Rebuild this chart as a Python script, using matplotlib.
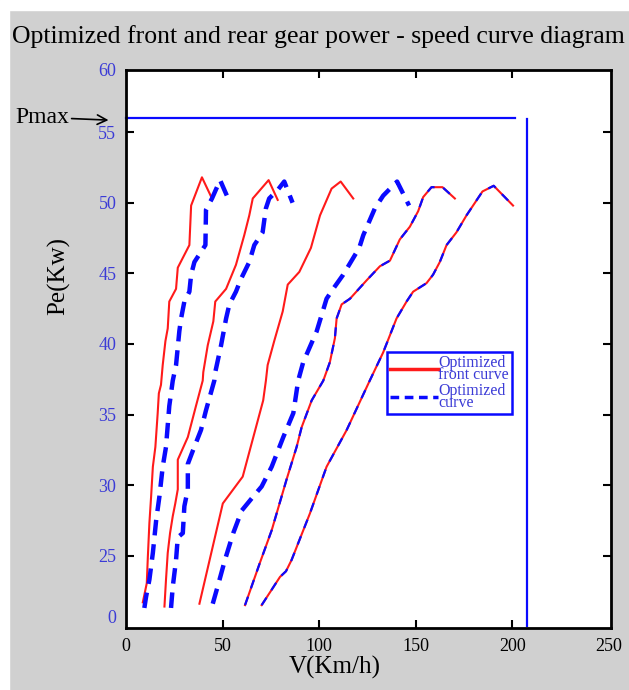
import matplotlib
matplotlib.use("Agg")
import matplotlib.pyplot as plt
from matplotlib.lines import Line2D
from matplotlib.patches import Rectangle

plt.rcParams['font.family'] = ['Liberation Serif', 'DejaVu Serif']

# front-gear curves (speed km/h, power kW)
front1_v = [8.7, 10.75, 11.3, 12.1, 13.0, 13.9, 15.2, 16.4, 17.0, 18.1, 19.0, 20.4, 21.6, 22.4, 25.9, 26.8, 32.8, 33.7, 39.3, 44.5]
front1_p = [21.7, 23.05, 24.9, 27.3, 29.2, 31.3, 32.7, 35.1, 36.5, 37.1, 38.5, 40.2, 41.1, 43.0, 43.9, 45.4, 47.0, 49.8, 51.8, 50.3]
front2_v = [19.9, 20.7, 21.6, 22.8, 24.2, 25.5, 26.8, 26.8, 32.0, 36.2, 39.7, 40.0, 42.3, 45.2, 46.2, 51.8, 56.9, 61.2, 63.8, 65.6, 73.8, 78.5]
front2_p = [21.4, 23.3, 25.2, 26.6, 27.8, 28.7, 29.7, 31.8, 33.4, 35.6, 37.4, 38.0, 39.9, 41.6, 43.0, 43.9, 45.6, 47.7, 49.1, 50.3, 51.6, 50.2]
front3_v = [38.0, 50.1, 60.4, 71.0, 72.4, 73.3, 76.7, 81.1, 83.7, 89.7, 95.7, 100.4, 106.4, 111.1, 117.6]
front3_p = [21.6, 28.7, 30.6, 36.0, 37.4, 38.5, 40.2, 42.3, 44.2, 45.1, 46.8, 49.1, 51.0, 51.5, 50.3]
front4_v = [61.6, 69.3, 75.4, 83.1, 88.3, 90.9, 96.1, 102.1, 105.5, 108.1, 109.0, 111.6, 115.9, 124.5, 131.4, 136.6, 141.7, 146.9, 151.2, 153.8, 158.1, 163.8, 170.2]
front4_p = [21.5, 24.5, 26.8, 30.4, 32.7, 34.1, 36.0, 37.4, 38.7, 40.4, 41.8, 42.8, 43.2, 44.5, 45.5, 45.9, 47.4, 48.3, 49.4, 50.4, 51.1, 51.1, 50.3]
front5_v = [70.2, 79.7, 82.8, 85.7, 95.2, 103.8, 114.2, 125.8, 133.1, 140.0, 145.2, 148.6, 155.5, 158.9, 162.4, 165.9, 171.0, 176.2, 184.5, 190.3, 200.3]
front5_p = [21.5, 23.5, 23.9, 24.7, 28.0, 31.3, 33.9, 37.3, 39.4, 41.8, 43.0, 43.7, 44.3, 44.9, 45.8, 47.0, 47.9, 49.1, 50.8, 51.2, 49.8]

# rear-gear curves
rear1_v = [9.5, 10.4, 12.1, 13.9, 15.6, 17.3, 19.0, 20.7, 22.4, 24.2, 25.9, 27.6, 28.5, 30.2, 32.8, 33.7, 35.4, 41.1, 41.4, 44.5, 48.7, 53.8]
rear1_p = [21.3, 22.1, 23.3, 25.2, 27.5, 29.2, 31.3, 32.7, 35.6, 37.4, 38.5, 40.9, 41.8, 43.0, 43.7, 44.9, 45.8, 47.0, 49.5, 50.3, 51.6, 50.0]
rear2_v = [23.3, 24.2, 25.9, 26.8, 29.4, 30.2, 32.0, 32.0, 34.5, 38.8, 41.4, 45.7, 46.2, 49.2, 51.8, 53.5, 56.9, 59.5, 63.8, 66.4, 70.7, 72.4, 74.1, 78.5, 81.9, 86.2]
rear2_p = [21.3, 22.8, 24.7, 26.3, 26.6, 28.5, 29.7, 31.5, 32.4, 33.9, 35.3, 37.4, 38.0, 39.9, 41.8, 42.8, 43.7, 44.6, 45.8, 47.0, 47.9, 49.6, 50.3, 50.9, 51.5, 50.0]
rear3_v = [44.9, 47.8, 51.2, 55.5, 59.9, 65.9, 70.2, 75.4, 81.4, 86.6, 89.1, 91.7, 98.7, 103.8, 107.2, 112.4, 120.7, 122.8, 128.8, 133.1, 140.3, 146.5]
rear3_p = [21.6, 23.0, 24.7, 26.6, 28.2, 29.2, 29.9, 31.3, 33.4, 35.1, 37.4, 38.7, 40.9, 43.2, 43.9, 44.9, 46.8, 47.7, 49.6, 50.5, 51.5, 49.8]
rear4_v = front4_v
rear4_p = front4_p
rear5_v = front5_v
rear5_p = front5_p

pmax = 56
v_limit = 207.5

yticks = [20.7, 25, 30, 35, 40, 45, 50, 55, 59.4]
ytick_labels = ["0", "25", "30", "35", "40", "45", "50", "55", "60"]
xticks = [0, 50, 100, 150, 200, 250]

red = '#ff1a1a'
blue = '#0a0aff'
label_blue = '#3b3bd6'

fig = plt.figure(figsize=(6.29, 6.90), dpi=100, facecolor='#d0d0d0')
fig.patches.append(Rectangle((0, 1 - 10/690), 1, 10/690, transform=fig.transFigure, color='white', zorder=0))
fig.patches.append(Rectangle((0, 0), 9/629, 1, transform=fig.transFigure, color='white', zorder=0))

ax = fig.add_axes([126/629, 62/690, 485/629, 558/690])

fronts = [(front1_v, front1_p), (front2_v, front2_p), (front3_v, front3_p), (front4_v, front4_p), (front5_v, front5_p)]
rears = [(rear1_v, rear1_p), (rear2_v, rear2_p), (rear3_v, rear3_p), (rear4_v, rear4_p), (rear5_v, rear5_p)]

for v, p in fronts:
    ax.plot(v, p, color=red, lw=1.5)
for i, (v, p) in enumerate(rears):
    if i < 3:
        ax.plot(v, p, color=blue, lw=3.2, dashes=(3.5, 2), solid_capstyle='butt')
    else:
        # same as front curve, drawn over it
        ax.plot(v, p, color=blue, lw=1.6, dashes=(4, 4))

ax.plot([0, 201.2], [pmax, pmax], color=blue, lw=1.6, clip_on=False)
ax.plot([v_limit, v_limit], [20.0, pmax - 0.1], color=blue, lw=1.6)

ax.set_xlim(0, 251)
ax.set_ylim(19.88, 59.4)
ax.set_xticks(xticks)
ax.set_xticklabels([str(t) for t in xticks], fontsize=13)
ax.set_yticks(yticks)
ax.set_yticklabels(ytick_labels, fontsize=13, color=label_blue)
ax.tick_params(direction='in', length=6, width=1.5, top=True, right=True, pad=7)
for t in (ax.yaxis.get_major_ticks()[0], ax.yaxis.get_major_ticks()[-1],
          ax.xaxis.get_major_ticks()[0], ax.xaxis.get_major_ticks()[-1]):
    t.tick1line.set_visible(False)
    t.tick2line.set_visible(False)
for s in ax.spines.values():
    s.set_linewidth(2)

ax.set_xlabel("V(Km/h)", fontsize=18)
ax.xaxis.set_label_coords(0.43, -0.05)
ax.xaxis.label.set_va('top')
ax.set_ylabel("Pe(Kw)", fontsize=18)
ax.yaxis.set_label_coords(-0.115, 0.63)

fig.text(0.506, 1 - 37/690, "Optimized front and rear gear power - speed curve diagram",
         fontsize=18.5, ha='center', va='center')

ax.annotate("Pmax", xy=(-0.036, pmax - 0.15), xycoords=('axes fraction', 'data'),
            xytext=(-0.229, pmax + 0.05), textcoords=('axes fraction', 'data'),
            fontsize=17, ha='left', va='center',
            arrowprops=dict(arrowstyle='->', color='black', lw=1.2, shrinkA=0, shrinkB=0))

handles = [Line2D([], [], color=red, lw=2.5),
           Line2D([], [], color=blue, lw=2.5, dashes=(2.5, 1.6))]
leg = ax.legend(handles, ["Optimized\nfront curve", "Optimized\ncurve"],
                loc='upper left', bbox_to_anchor=(0.538, 0.495),
                fontsize=11.5, frameon=True, fancybox=False, framealpha=1,
                edgecolor=blue, handlelength=3.0, handletextpad=0.0,
                labelspacing=0.0, borderpad=0.2, borderaxespad=0)
leg.get_frame().set_linewidth(1.8)
for t in leg.get_texts():
    t.set_color(label_blue)
    t.set_linespacing(0.65)

fig.savefig("out.png", dpi=100, facecolor=fig.get_facecolor())
